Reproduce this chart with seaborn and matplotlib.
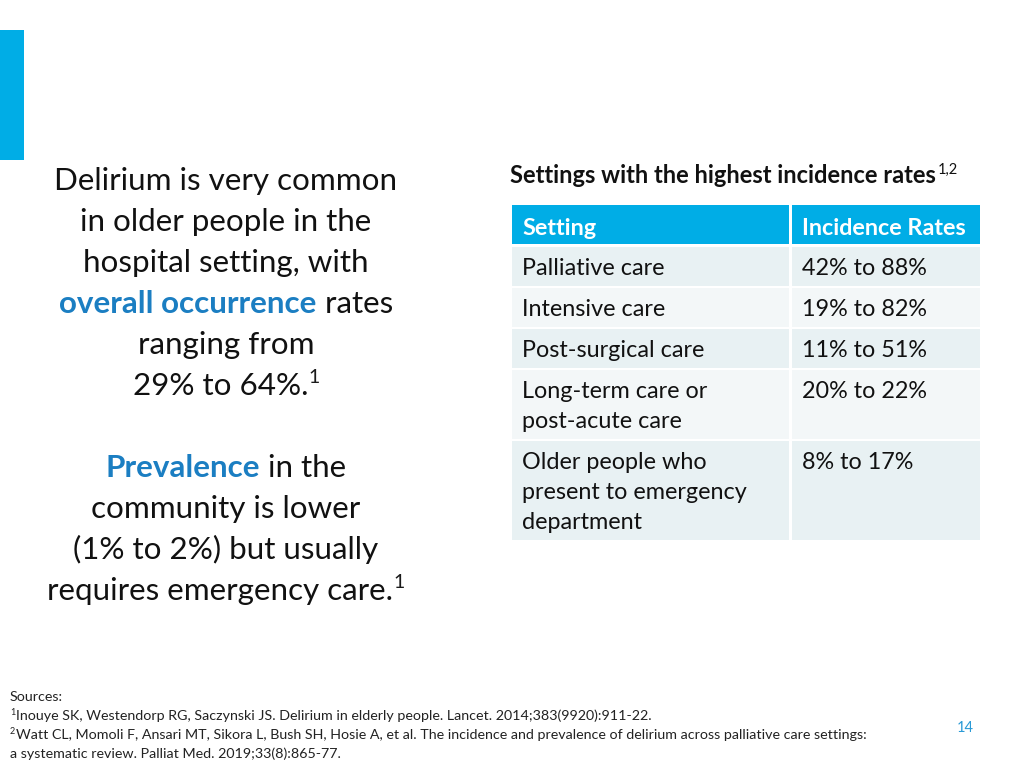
import matplotlib
matplotlib.use("Agg")
import matplotlib.pyplot as plt
import seaborn as sns


sns.set_theme(style="white")
plt.rcParams["font.family"] = ["Lato", "DejaVu Sans"]

# slide content
left_lines = [
    [("Delirium is very common", "k", "normal")],
    [("in older people in the", "k", "normal")],
    [("hospital setting, with", "k", "normal")],
    [("overall occurrence", "blue", "bold"), (" rates", "k", "normal")],
    [("ranging from", "k", "normal")],
    [("29% to 64%.", "k", "normal"), ("1", "sup", "normal")],
    [],
    [("Prevalence", "blue", "bold"), (" in the", "k", "normal")],
    [("community is lower", "k", "normal")],
    [("(1% to 2%) but usually", "k", "normal")],
    [("requires emergency care.", "k", "normal"), ("1", "sup", "normal")],
]

table_title = "Settings with the highest incidence rates"
table_title_sup = "1,2"
header = ["Setting", "Incidence Rates"]
settings = ["Palliative care", "Intensive care", "Post-surgical care",
            "Long-term care or\npost-acute care",
            "Older people who\npresent to emergency\ndepartment"]
rates = ["42% to 88%", "19% to 82%", "11% to 51%", "20% to 22%", "8% to 17%"]

sources = [
    ("", "Sources:"),
    ("1", "Inouye SK, Westendorp RG, Saczynski JS. Delirium in elderly people. Lancet. 2014;383(9920):911-22."),
    ("2", "Watt CL, Momoli F, Ansari MT, Sikora L, Bush SH, Hosie A, et al. The incidence and prevalence of delirium across palliative care settings:"),
    ("", "a systematic review. Palliat Med. 2019;33(8):865-77."),
]
page_number = "14"

BLUE_BAR = "#00ADE6"
BLUE_TEXT = "#1B7EC2"
ROW_DARK = "#E8F1F3"
ROW_LIGHT = "#F3F7F8"


def put_runs(ax, x, y, runs, size, ha="center"):
    # draw a line made of differently styled pieces, centred on x
    renderer = ax.figure.canvas.get_renderer()
    items = []
    for text, color, weight in runs:
        if color == "sup":
            t = ax.text(0, y - 12, text, fontsize=size * 0.62, color="k",
                        va="baseline", ha="left")
        else:
            c = BLUE_TEXT if color == "blue" else "#111111"
            t = ax.text(0, y, text, fontsize=size, color=c, fontweight=weight,
                        va="baseline", ha="left")
        items.append(t)
    widths = [t.get_window_extent(renderer).width for t in items]
    total = sum(widths)
    start = x - total / 2 if ha == "center" else x
    for t, w in zip(items, widths):
        t.set_x(start)
        start += w


fig = plt.figure(figsize=(10.24, 7.68), dpi=100)
ax = fig.add_axes([0, 0, 1, 1])
ax.set_xlim(0, 1024)
ax.set_ylim(768, 0)
ax.axis("off")

# left accent bar
ax.barh(95, 24, height=130, left=0, color=BLUE_BAR, linewidth=0)

# left paragraph
base = 190
for i, runs in enumerate(left_lines):
    if runs:
        put_runs(ax, 226, base + 41 * i, runs, 22.6)

# table title
put_runs(ax, 510, 183, [(table_title, "k", "bold")], 17, ha="left")
t = ax.texts[-1]
r = fig.canvas.get_renderer()
xend = t.get_window_extent(r).x1
ax.text(xend + 2, 174, table_title_sup, fontsize=10.5, va="baseline", ha="left", color="#111111")

# table
col_x = [512, 792]
col_w = [277, 188]
top = 205
ax.barh(top + 19.5, col_w[0], height=39, left=col_x[0], align="center", color=BLUE_BAR, linewidth=0)
ax.barh(top + 19.5, col_w[1], height=39, left=col_x[1], align="center", color=BLUE_BAR, linewidth=0)
for j, h in enumerate(header):
    ax.text(col_x[j] + 10, top + 30, h, fontsize=16.8, fontweight="bold", color="white", va="baseline")

y = top + 39 + 3
for i, (s, rt) in enumerate(zip(settings, rates)):
    n = s.count("\n") + 1
    hgt = 9 + 30 * n
    color = ROW_DARK if i % 2 == 0 else ROW_LIGHT
    for j in range(2):
        ax.barh(y + hgt / 2, col_w[j], height=hgt, left=col_x[j], color=color, linewidth=0)
    for k, line in enumerate(s.split("\n")):
        ax.text(col_x[0] + 10, y + 28 + 30 * k, line, fontsize=16.8, color="#111111", va="baseline")
    ax.text(col_x[1] + 10, y + 28, rt, fontsize=16.8, color="#111111", va="baseline")
    y += hgt + 2

# sources
for i, (sup, line) in enumerate(sources):
    yy = 701 + 19 * i
    x0 = 10
    if sup:
        ax.text(x0, yy - 5, sup, fontsize=6.5, va="baseline", ha="left", color="#222222")
        x0 += 6
    ax.text(x0, yy, line, fontsize=10.3, va="baseline", ha="left", color="#222222")

ax.text(965, 732, page_number, fontsize=10.5, color="#2A9AD6", ha="center", va="baseline")

fig.savefig("out.png", dpi=100)
